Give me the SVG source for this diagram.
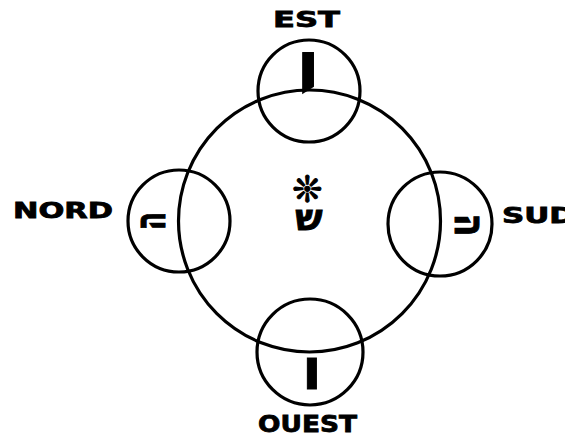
<svg xmlns="http://www.w3.org/2000/svg" width="565" height="437" viewBox="0 0 565 437">
<style>
.c{fill:none;stroke:#000;stroke-width:3.2}
.lab{font-family:"DejaVu Sans","Liberation Sans",sans-serif;font-weight:bold;fill:#000;stroke:#000;stroke-width:0.8}
.heb{font-family:"DejaVu Sans","Noto Sans",sans-serif;font-weight:bold;fill:#000;stroke:#000;stroke-width:1;text-anchor:middle}
</style>
<rect width="565" height="437" fill="#fff"/>
<g id="centre">
<circle class="c" cx="309.5" cy="221" r="131"/>
<text class="heb" x="307" y="202" font-size="36">❊</text>
<text class="heb" x="309" y="230" font-size="36">ש</text>
</g>
<g id="est">
<circle class="c" cx="309" cy="91" r="51"/>
<text class="lab" x="273" y="27" font-size="22" textLength="67" lengthAdjust="spacingAndGlyphs">EST</text>
<text class="heb" transform="translate(308,110) scale(1.3,2.08)" font-size="50" stroke-width="0.6">י</text>
</g>
<g id="nord">
<circle class="c" cx="179" cy="221" r="51"/>
<text class="lab" x="13" y="218" font-size="21" textLength="100" lengthAdjust="spacingAndGlyphs">NORD</text>
<text class="heb" transform="translate(154,221) rotate(-90) scale(0.6,1)" y="11" font-size="44">ה</text>
</g>
<g id="sud">
<circle class="c" cx="440" cy="224" r="52"/>
<text class="lab" x="502" y="223" font-size="21" textLength="73" lengthAdjust="spacingAndGlyphs">SUD</text>
<text class="heb" transform="translate(466,225) rotate(90) scale(0.75,1)" y="11" font-size="44">ה</text>
</g>
<g id="ouest">
<circle class="c" cx="310" cy="352" r="53"/>
<text class="lab" x="258" y="432" font-size="23" textLength="99" lengthAdjust="spacingAndGlyphs">OUEST</text>
<text class="heb" transform="translate(312,373) rotate(180)" y="15" font-size="56">ו</text>
</g>
<g id="connectors"></g>
</svg>
